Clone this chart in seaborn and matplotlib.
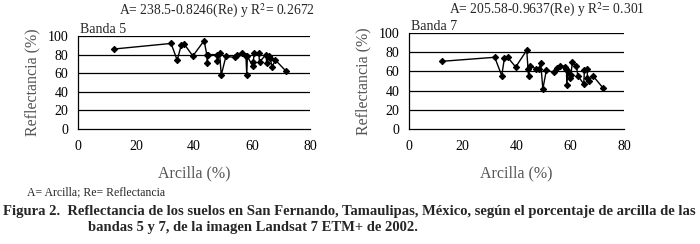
import numpy as np
import pandas as pd
import matplotlib
matplotlib.use("Agg")
import matplotlib.pyplot as plt
import seaborn as sns

# ---- data ----
b5_arcilla = [12.4, 32.1, 34.2, 35.6, 36.7, 39.6, 43.5, 44.4, 44.6, 44.8, 47.9, 48.1, 48.8, 49.4,
              51.0, 54.2, 54.8, 56.5, 57.9, 58.2, 58.4, 60.2, 60.4, 60.8, 62.3, 62.6, 64.8, 65.1,
              65.7, 66.3, 66.9, 68.1, 71.8]
b5_refl = [86, 92, 74, 90, 91, 78.5, 95, 80, 70.5, 80, 80, 73.5, 82, 58,
           78, 77, 80, 82, 79, 58, 78, 68, 72, 82, 82, 72, 80, 71,
           78, 76, 67, 74, 62]

b7_arcilla = [12.2, 31.9, 34.5, 35.5, 36.7, 39.7, 43.8, 44.3, 44.5, 45.0, 47.4, 48.4, 49.0, 49.8,
              51.1, 54.1, 55.1, 56.3, 57.9, 58.6, 58.7, 59.2, 60.0, 60.2, 60.8, 62.3, 62.8, 65.0,
              65.3, 66.3, 66.4, 66.8, 68.4, 72.2]
b7_refl = [70.5, 74.7, 55.6, 73.6, 74.7, 64.6, 82, 62.5, 55.6, 66, 62.5, 62.5, 69, 41.7,
           61, 59, 63.5, 66, 65, 62.5, 45.8, 60, 53, 56, 69.4, 66, 55.6, 47,
           61.8, 62.5, 53, 49.7, 55.6, 42.7]

panels = ["Banda 5", "Banda 7"]
formulas = ["A= 238.5-0.8246(Re) y R$^2$= 0.2672", "A= 205.58-0.9637(Re) y R$^2$= 0.301"]
x_ticks = [0, 20, 40, 60, 80]
y_ticks = [0, 20, 40, 60, 80, 100]
x_label = "Arcilla (%)"
y_label = "Reflectancia (%)"
note = "A= Arcilla; Re= Reflectancia"
caption1 = "Figura 2.  Reflectancia de los suelos en San Fernando, Tamaulipas, México, según el porcentaje de arcilla de las"
caption2 = "bandas 5 y 7, de la imagen Landsat 7 ETM+ de 2002."

sns.set_style("white")
plt.rcParams['font.family'] = ['Liberation Serif', 'DejaVu Serif']
plt.rcParams['mathtext.fontset'] = 'stix'

fig = plt.figure(figsize=(7.0, 2.44), dpi=100)
axes = [fig.add_axes([78/700, 1-129/244, 232/700, 93/244]),
        fig.add_axes([409/700, 1-129/244, 215/700, 96/244])]
formula_pos = [(315/700, 1-11/244), (645/700, 1-10/244)]

data = [(b5_arcilla, b5_refl), (b7_arcilla, b7_refl)]
for ax, (xs, ys), name, form, fp in zip(axes, data, panels, formulas, formula_pos):
    df = pd.DataFrame({"x": xs, "y": ys})
    sns.lineplot(data=df, x="x", y="y", sort=False, ax=ax, color="black", lw=1.0,
                 marker="D", markersize=3.2, markeredgecolor="black", markerfacecolor="black")
    ax.set_xlim(0, 80)
    ax.set_ylim(0, 100)
    ax.set_xticks(x_ticks)
    ax.set_yticks(y_ticks)
    for v in y_ticks[1:]:
        ax.axhline(v, color="black", lw=0.9, zorder=0)
    for s in ["top", "right"]:
        ax.spines[s].set_visible(False)
    for s in ["left", "bottom"]:
        ax.spines[s].set_color("black")
        ax.spines[s].set_linewidth(0.9)
    ax.tick_params(axis="both", direction="out", length=4, width=0.9, color="black",
                   labelsize=10, labelcolor="black", pad=4)
    ax.tick_params(axis="y", length=3)
    ax.set_xlabel(x_label, fontsize=11.5, color="#555555", labelpad=9)
    ax.set_ylabel(y_label, fontsize=11.5, color="#555555", labelpad=5)
    ax.text(0.01, 1.0, name, transform=ax.transAxes, fontsize=10, ha="left", va="bottom")
    fig.text(fp[0], fp[1], form, fontsize=9.8, ha="right", va="center")

fig.text(27/700, 1-192/244, note, fontsize=8.5, ha="left", va="center")
fig.text(3/700, 1-211/244, caption1, fontsize=10.5, fontweight="bold", ha="left", va="center")
fig.text(88/700, 1-227/244, caption2, fontsize=10.5, fontweight="bold", ha="left", va="center")

fig.savefig("out.png", dpi=100)
